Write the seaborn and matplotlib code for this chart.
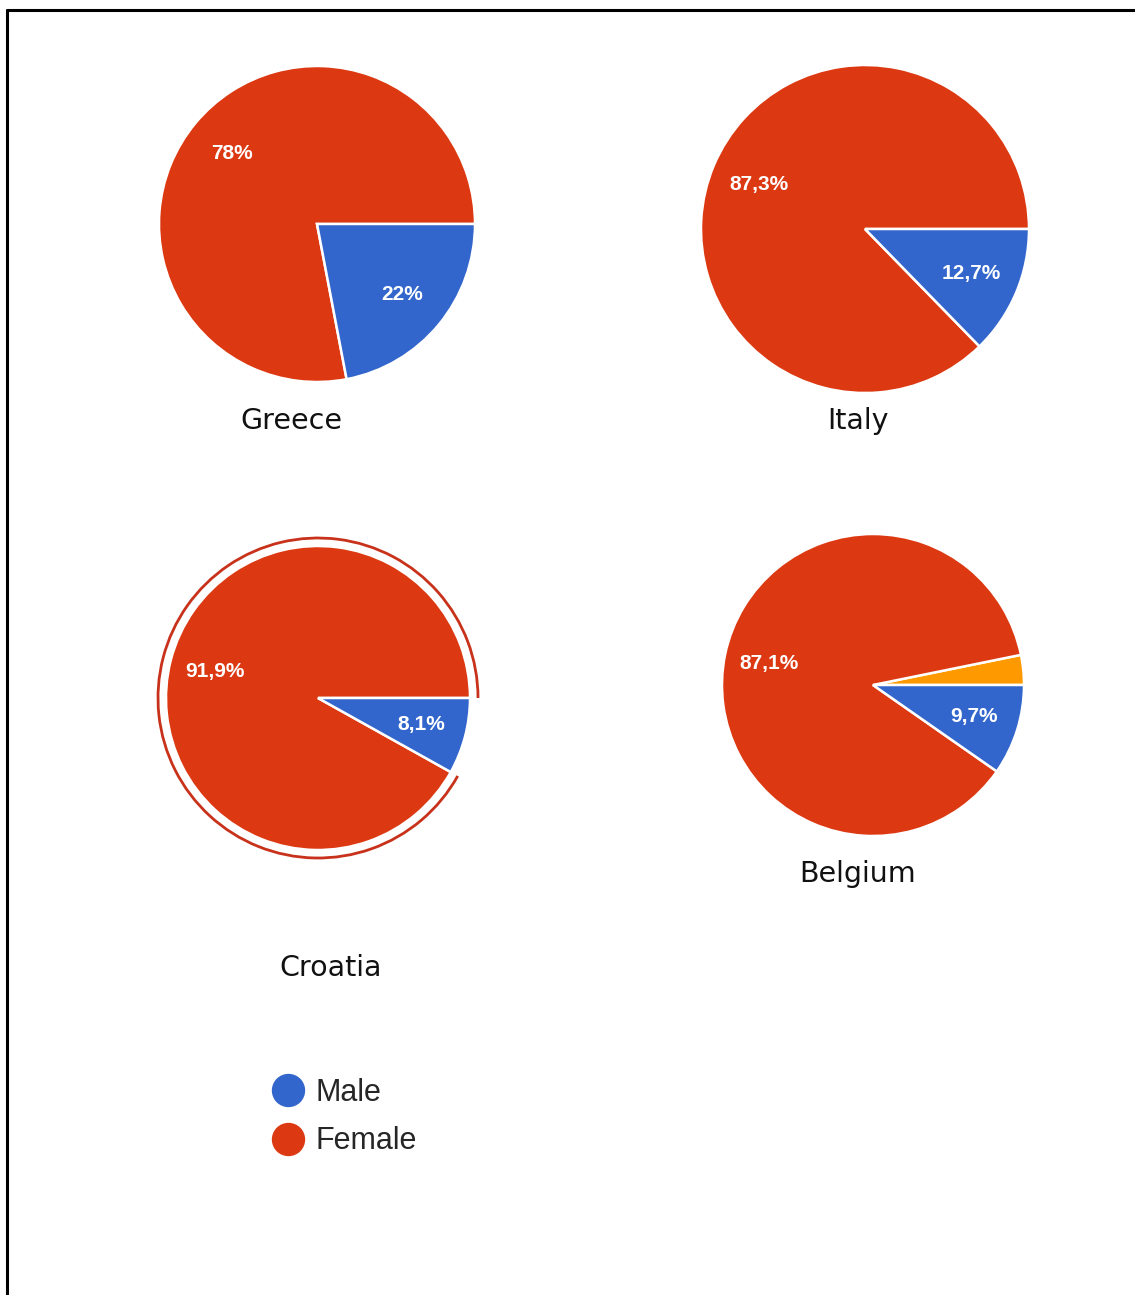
import matplotlib
matplotlib.use("Agg")
import matplotlib.pyplot as plt
import seaborn as sns
from matplotlib.lines import Line2D
from matplotlib.patches import Arc

# data
countries = ["Greece", "Italy", "Croatia", "Belgium"]
female = [78, 87.3, 91.9, 87.1]
male = [22, 12.7, 8.1, 9.7]
other = [0, 0, 0, 3.2]

sns.set_theme(style="white")
plt.rcParams["font.family"] = ["DejaVu Sans"]

palette = sns.color_palette(["#DC3912", "#3366CC", "#FF9900"])
c_female, c_male, c_other = palette

W, H = 1135, 1295
fig = plt.figure(figsize=(W / 100, H / 100), dpi=100)
ax = fig.add_axes([0, 0, 1, 1])
ax.set_xlim(0, W)
ax.set_ylim(0, H)
ax.axis("off")

# layout in pixels (x, y from top): pie centre, radius, title position
layout = {
    "Greece": ((317, 224), 158, (291, 421)),
    "Italy": ((865, 229), 164, (858, 421)),
    "Croatia": ((318, 698), 152, (331, 968)),
    "Belgium": ((873, 685), 151, (858, 874)),
}


def fmt(p):
    if p < 5:
        return ""
    s = f"{p:.1f}".rstrip("0").rstrip(".")
    return s.replace(".", ",") + "%"


for i, name in enumerate(countries):
    (cx, cy), r, (tx, ty) = layout[name]
    vals, cols = [], []
    for v, c in [(other[i], c_other), (female[i], c_female), (male[i], c_male)]:
        if v > 0:
            vals.append(v)
            cols.append(c)
    wedges, texts, autotexts = ax.pie(
        vals, colors=cols, startangle=0, counterclock=True,
        center=(cx, H - cy), radius=r, autopct=fmt, pctdistance=0.7,
        wedgeprops=dict(edgecolor="white", linewidth=1.8),
        textprops=dict(color="white", fontsize=15, fontweight="bold",
                       family="Liberation Sans"),
    )
    ax.text(tx, H - ty, name, ha="center", va="center", fontsize=20.5,
            color="#111111")

    if name == "Croatia":
        # highlight ring around the selected (female) slice
        start = 360 * other[i] / 100
        end = start + 360 * female[i] / 100
        ax.add_patch(Arc((cx, H - cy), 2 * (r + 8), 2 * (r + 8),
                         theta1=start, theta2=end, color="#C8321A", lw=2.0))

ax.set_xlim(0, W)
ax.set_ylim(0, H)
ax.set_aspect("equal")

handles = [
    Line2D([], [], marker="o", linestyle="", markersize=23, color=c_male),
    Line2D([], [], marker="o", linestyle="", markersize=23, color=c_female),
]
ax.legend(handles, ["Male", "Female"], loc="center left",
          bbox_to_anchor=(270, H - 1117), bbox_transform=ax.transData,
          frameon=False, borderpad=0, borderaxespad=0, handlelength=1.15,
          handletextpad=0.35, labelspacing=0.62,
          prop=dict(family="Liberation Sans", size=22))

# page frame (top and left edges)
fig.add_artist(Line2D([7 / W, 7 / W], [0, 1 - 10 / H], color="black", lw=2.2,
                      transform=fig.transFigure))
fig.add_artist(Line2D([7 / W, 1], [1 - 10 / H, 1 - 10 / H], color="black",
                      lw=2.2, transform=fig.transFigure))

fig.savefig("out.png", dpi=100)
